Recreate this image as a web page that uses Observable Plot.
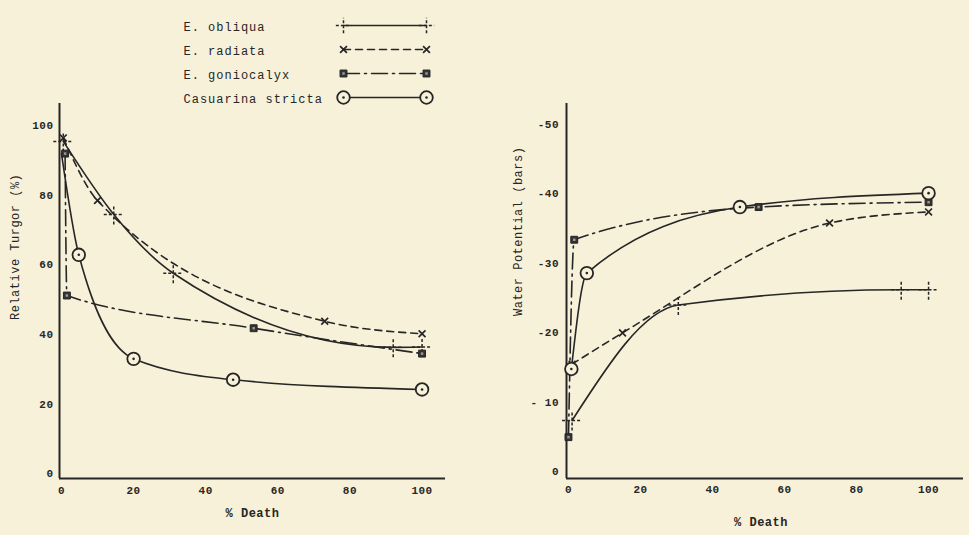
<!DOCTYPE html>
<html><head><meta charset="utf-8">
<script src="https://cdn.jsdelivr.net/npm/d3@7"></script>
<script src="https://cdn.jsdelivr.net/npm/@observablehq/plot@0.6"></script>
<style>
body{margin:0;background:#f8f1d9;}
#wrap{position:relative;width:969px;height:535px;background:#f8f1d9;overflow:hidden;}
#wrap > svg{position:absolute;top:0;}
</style></head><body><div id="wrap"></div>
<script>
// ---------- data ----------
const species = ["E. obliqua", "E. radiata", "E. goniocalyx", "Casuarina stricta"];
const deathTicks = [0, 20, 40, 60, 80, 100];
const turgorTicks = [0, 20, 40, 60, 80, 100];
const potentialTicks = [0, -10, -20, -30, -40, -50];

// Left panel: Relative Turgor (%) vs % Death
const turgorObliquaDeath = [0.5, 14.5, 31, 92, 100];
const turgorObliquaValue = [95.5, 74.5, 57.6, 36.3, 36.4];
const turgorRadiataDeath = [0.5, 10, 73, 100];
const turgorRadiataValue = [96.5, 78.5, 43.8, 40.2];
const turgorGoniocalyxDeath = [1, 1.5, 53.3, 100];
const turgorGoniocalyxValue = [92, 51.2, 41.8, 34.5];
const turgorCasuarinaDeath = [0, 4.8, 20, 47.6, 100];
const turgorCasuarinaValue = [92, 62.9, 33, 27, 24.2];
const turgorCasuarinaMarked = [false, true, true, true, true];

// Right panel: Water Potential (bars) vs % Death
const potentialObliquaDeath = [1, 30.5, 92.4, 100];
const potentialObliquaValue = [-7.4, -24, -26.2, -26.2];
const potentialRadiataDeath = [1, 15, 72.5, 100];
const potentialRadiataValue = [-15.5, -20, -35.8, -37.4];
const potentialGoniocalyxDeath = [0, 1.6, 52.8, 100];
const potentialGoniocalyxValue = [-5, -33.4, -38.1, -38.8];
const potentialCasuarinaDeath = [0.8, 5.1, 47.6, 100];
const potentialCasuarinaValue = [-14.8, -28.6, -38.1, -40.1];

// ---------- styles ----------
const ink = "#262626";
const paper = "#f8f1d9";
const dashes = {
  "E. obliqua": null,
  "E. radiata": "7,5",
  "E. goniocalyx": "16,5,2,5",
  "Casuarina stricta": null
};

const toRows = (name, xs, ys, marked) => xs.map((x, i) => ({species: name, death: x, value: ys[i], marked: marked ? marked[i] : true}));

const turgorSeries = [
  toRows(species[0], turgorObliquaDeath, turgorObliquaValue),
  toRows(species[1], turgorRadiataDeath, turgorRadiataValue),
  toRows(species[2], turgorGoniocalyxDeath, turgorGoniocalyxValue),
  toRows(species[3], turgorCasuarinaDeath, turgorCasuarinaValue, turgorCasuarinaMarked)
];
const potentialSeries = [
  toRows(species[0], potentialObliquaDeath, potentialObliquaValue),
  toRows(species[1], potentialRadiataDeath, potentialRadiataValue),
  toRows(species[2], potentialGoniocalyxDeath, potentialGoniocalyxValue),
  toRows(species[3], potentialCasuarinaDeath, potentialCasuarinaValue)
];

function markerMarks(name, data, x, y, plusR = 6.5) {
  if (name === species[0]) return [Plot.dot(data, {x, y, symbol: "plus", r: plusR, stroke: ink, strokeWidth: 1.5, strokeDasharray: "3,2"})];
  if (name === species[1]) return [Plot.dot(data, {x, y, symbol: "times", r: 3.2, stroke: ink, strokeWidth: 1.7})];
  if (name === species[2]) return [
    Plot.dot(data, {x, y, symbol: "square", r: 3.9, fill: "#333", stroke: ink, strokeWidth: 1}),
    Plot.dot(data, {x, y, symbol: "square", r: 1.4, fill: "#9a9a90"})
  ];
  return [
    Plot.dot(data, {x, y, symbol: "circle", r: 6.3, fill: paper, stroke: ink, strokeWidth: 1.8}),
    Plot.dot(data, {x, y, r: 1.3, fill: ink})
  ];
}

function seriesMarks(seriesList) {
  const lines = seriesList.map(rows => Plot.line(rows, {
    x: "death", y: "value", curve: "monotone-x", stroke: ink, strokeWidth: 1.6,
    strokeDasharray: dashes[rows[0].species]
  }));
  const marks = seriesList.flatMap(rows => markerMarks(rows[0].species, rows.filter(r => r.marked), "death", "value"));
  return [...lines, ...marks];
}

const baseStyle = {fontFamily: "'Liberation Mono', monospace", fontSize: "11px", background: "transparent", color: ink, letterSpacing: "0.5px"};

// ---------- left panel ----------
const leftX = [-0.55, 106.5];
const leftY = [-1.4, 106.4];
const left = Plot.plot({
  width: 480, height: 535,
  marginLeft: 59, marginRight: 35, marginTop: 103, marginBottom: 57,
  x: {domain: leftX},
  y: {domain: leftY},
  style: baseStyle,
  marks: [
    Plot.axisY(turgorTicks, {tickSize: 0, tickPadding: 6, fontWeight: "bold", label: null}),
    Plot.axisX(deathTicks, {tickSize: 0, tickPadding: 8, fontWeight: "bold", label: null}),
    Plot.ruleX([leftX[0]], {stroke: ink, strokeWidth: 2}),
    Plot.ruleY([leftY[0]], {stroke: ink, strokeWidth: 2}),
    Plot.text(["Relative Turgor (%)"], {text: d => d, frameAnchor: "left", rotate: -90, dx: -44, dy: 29, fontSize: 12, letterSpacing: "1px", fill: ink}),
    Plot.text(["% Death"], {text: d => d, frameAnchor: "bottom", dy: 38, fontSize: 12, fontWeight: "bold", letterSpacing: "1px", fill: ink}),
    ...seriesMarks(turgorSeries)
  ]
});
left.style.left = "0px";

// ---------- right panel ----------
const rightX = [-0.55, 109.7];
const rightY = [0.95, -53];
const right = Plot.plot({
  width: 484, height: 535,
  marginLeft: 81, marginRight: 6, marginTop: 103, marginBottom: 57,
  x: {domain: rightX},
  y: {domain: rightY},
  style: baseStyle,
  marks: [
    Plot.axisY(potentialTicks, {tickSize: 0, tickPadding: 7.5, fontWeight: "bold", label: null,
      tickFormat: d => d === 0 ? "0" : (d === -10 ? "- 10" : "-" + Math.abs(d))}),
    Plot.axisX(deathTicks, {tickSize: 0, tickPadding: 7, fontWeight: "bold", label: null}),
    Plot.ruleX([rightX[0]], {stroke: ink, strokeWidth: 2}),
    Plot.ruleY([rightY[0]], {stroke: ink, strokeWidth: 2}),
    Plot.text(["Water Potential (bars)"], {text: d => d, frameAnchor: "left", rotate: -90, dx: -48, dy: 25, fontSize: 12, letterSpacing: "1px", fill: ink}),
    Plot.text(["% Death"], {text: d => d, frameAnchor: "bottom", dy: 47, dx: -4, fontSize: 12, fontWeight: "bold", letterSpacing: "1px", fill: ink}),
    ...seriesMarks(potentialSeries)
  ]
});
right.style.left = "485px";

// ---------- legend ----------
const legendRows = species.flatMap(s => [{species: s, end: 0}, {species: s, end: 1}]);
const legendMarks = species.flatMap(s => {
  const rows = legendRows.filter(r => r.species === s);
  return [
    Plot.line(rows, {x: "end", y: "species", stroke: ink, strokeWidth: 1.6, strokeDasharray: dashes[s]}),
    ...markerMarks(s, rows, "end", "species", 5)
  ];
});
const legend = Plot.plot({
  width: 480, height: 110,
  marginLeft: 183, marginRight: 0, marginTop: 0, marginBottom: 0,
  x: {domain: [0, 1], range: [343, 426], axis: null},
  y: {type: "point", domain: species, range: [25, 97], padding: 0, axis: null},
  style: {...baseStyle, fontSize: "12px", letterSpacing: "1px"},
  marks: [
    Plot.text(species, {text: d => d, y: d => d, frameAnchor: "left", textAnchor: "start", fill: ink, dy: 2}),
    ...legendMarks
  ]
});
legend.style.left = "0px";

const wrap = document.getElementById("wrap");
wrap.append(left, right, legend);
</script>
</body></html>
